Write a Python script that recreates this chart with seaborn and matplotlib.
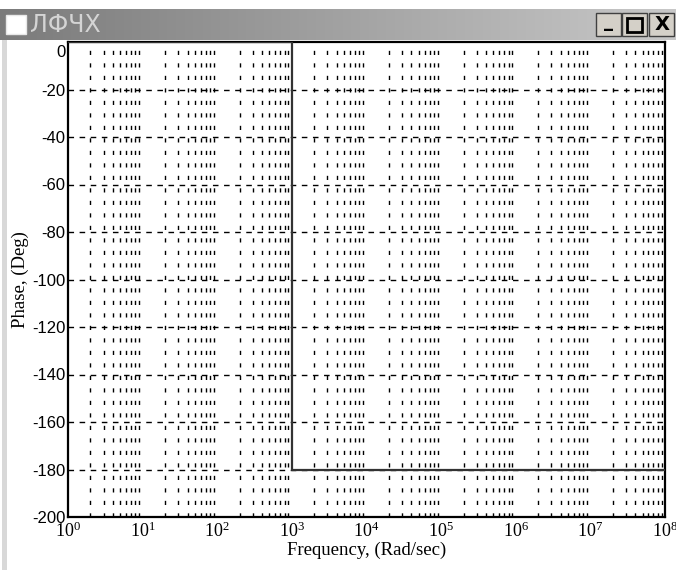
import numpy as np
import pandas as pd
import matplotlib
matplotlib.use("Agg")
import matplotlib.pyplot as plt
import seaborn as sns
from matplotlib.patches import Rectangle
from matplotlib.colors import LinearSegmentedColormap
import matplotlib.transforms as mtransforms

# ---- data ----
frequency = [1.0, 1000.0, 1000.0, 1e8]
phase = [0.0, 0.0, -180.0, -180.0]
y_ticks = [0, -20, -40, -60, -80, -100, -120, -140, -160, -180, -200]
x_decades = [0, 1, 2, 3, 4, 5, 6, 7, 8]
window_title = "ЛФЧХ"
x_label = "Frequency, (Rad/sec)"
y_label = "Phase, (Deg)"

sns.set_theme(style="white")
plt.rcParams['font.family'] = ['Liberation Serif', 'DejaVu Sans']

fig = plt.figure(figsize=(6.76, 5.70), dpi=100)
fig.patch.set_facecolor("white")

W, H = 676, 570
def fx(px): return px / W
def fy(py): return 1 - py / H

# window chrome: title bar gradient
grad_ax = fig.add_axes([fx(0), fy(40), 1, (40 - 9) / H])
grad = np.linspace(0, 1, 256).reshape(1, -1)
cmap = LinearSegmentedColormap.from_list("tb", ["#7b7b7b", "#c8c8c8"])
grad_ax.imshow(grad, aspect="auto", cmap=cmap, extent=[0, 1, 0, 1])
grad_ax.set_axis_off()
fig.patches.append(Rectangle((fx(6), fy(34)), 20 / W, 19 / H, transform=fig.transFigure,
                             facecolor="white", edgecolor="#e8e8e8", lw=1))
fig.text(fx(30), fy(25), window_title, family=['DejaVu Sans'], fontsize=17,
         color="#d4d4d4", va="center", ha="left")
for x0 in [596, 622, 649]:
    fig.patches.append(Rectangle((fx(x0), fy(36)), 25 / W, 23 / H, transform=fig.transFigure,
                                 facecolor="#d4d0c8", edgecolor="#404040", lw=1))
fig.text(fx(608), fy(22), "_", family=['DejaVu Sans'], fontsize=13, fontweight="bold",
         color="black", ha="center", va="center")
fig.patches.append(Rectangle((fx(627), fy(32)), 15 / W, 14 / H, transform=fig.transFigure,
                             facecolor="none", edgecolor="black", lw=2))
fig.text(fx(662), fy(25), "X", family=['DejaVu Sans'], fontsize=14, fontweight="bold",
         color="black", ha="center", va="center")
fig.patches.append(Rectangle((fx(2), 0), 5 / W, fy(40), transform=fig.transFigure,
                             facecolor="#d8d8d8", edgecolor="none"))

# ---- plot ----
ax = fig.add_axes([fx(68), fy(517), (665 - 68) / W, (517 - 42) / H])
df = pd.DataFrame({"Frequency": frequency, "Phase": phase})
sns.lineplot(data=df, x="Frequency", y="Phase", sort=False, estimator=None,
             color="#333333", lw=1.6, ax=ax, zorder=5)
ax.set_xscale("log")
ax.set_xlim(10 ** x_decades[0], 10 ** x_decades[-1])
ax.set_ylim(-200, 0)

for yv in y_ticks[1:-1]:
    ax.axhline(yv, color="black", lw=1.0, ls=(0, (4, 4)), zorder=1)
for d in x_decades[:-1]:
    for m in range(2, 10):
        ax.axvline(m * 10 ** d, color="black", lw=1.0, ls=(0, (3, 6)), zorder=1)

ax.set_yticks(y_ticks)
ax.set_yticklabels([str(v) for v in y_ticks], family=['Liberation Sans Narrow', 'Liberation Sans'],
                   fontsize=12)
ax.set_xticks([10 ** d for d in x_decades])
ax.set_xticklabels([r"$\mathregular{10^{%d}}$" % d for d in x_decades], fontsize=13)
ax.xaxis.set_minor_locator(matplotlib.ticker.NullLocator())
ax.tick_params(axis="both", which="both", length=0, pad=2, colors="black")
ax.tick_params(axis="x", pad=3)

lbl = ax.get_yticklabels()[0]
lbl.set_transform(lbl.get_transform() + mtransforms.ScaledTranslation(0, -9 / 100, fig.dpi_scale_trans))

ax.set_xlabel(x_label, fontsize=13.5, color="black", labelpad=1)
ax.set_ylabel(y_label, fontsize=13.5, color="black", labelpad=2)
for s in ax.spines.values():
    s.set_color("black")
    s.set_linewidth(1.6)
ax.set_facecolor("white")

fig.savefig("out.png", dpi=100)
